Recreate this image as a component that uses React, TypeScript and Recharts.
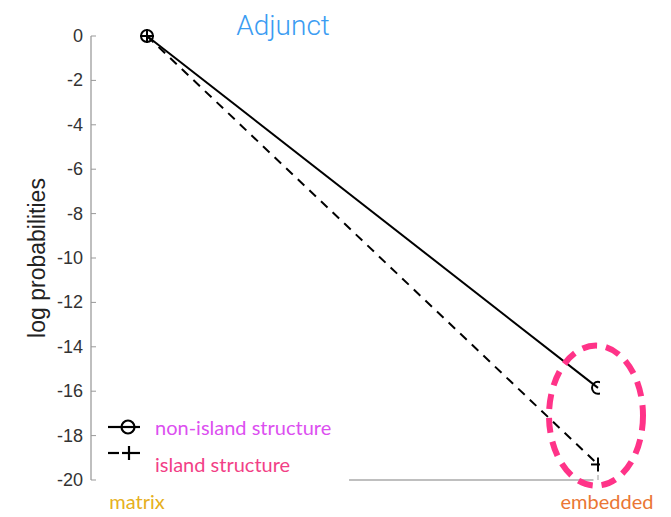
import React from 'react';
import { LineChart, Line, XAxis, YAxis, ReferenceLine, ReferenceDot } from 'recharts';

const categories = ['matrix', 'embedded'];
const nonIslandValues = [0, -15.85];
const islandValues = [0, -19.3];
const yTicks = [0, -2, -4, -6, -8, -10, -12, -14, -16, -18, -20];
const seriesNames = ['non-island structure', 'island structure'];
const highlight = { x: 1, y: -17.1 };

const data = categories.map((c, i) => ({ x: i, cat: c, nonIsland: nonIslandValues[i], island: islandValues[i] }));

const catColors = ['#e6b021', '#ea7634'];
const legendColors = ['#dc4ff0', '#f23f86'];

const CircleDot = (p: any) => (
  <circle cx={p.cx} cy={p.cy} r={6} fill="none" stroke="#000" strokeWidth={2} />
);
const PlusDot = (p: any) => (
  <g>
    <line x1={p.cx - 7} x2={p.cx + 7} y1={p.cy} y2={p.cy} stroke="#000" strokeWidth={2} />
    <line x1={p.cx} x2={p.cx} y1={p.cy - 7} y2={p.cy + 7} stroke="#000" strokeWidth={2} />
  </g>
);

const YTick = (p: any) => (
  <g>
    <line x1={p.x} x2={p.x + 5} y1={p.y} y2={p.y} stroke="#999" strokeWidth={1} />
    <text x={p.x - 8} y={p.y} dy={6} textAnchor="end" fill="#333" fontSize={18} fontFamily="'Liberation Sans', Arial, sans-serif">
      {p.payload.value}
    </text>
  </g>
);

const XTick = (p: any) => {
  const i = Math.round(p.payload.value);
  const off = i === 0 ? -10 : 9;
  return (
    <g>
      {i === 1 && <line x1={p.x} x2={p.x} y1={p.y} y2={p.y - 5} stroke="#999" strokeWidth={1} />}
      <text x={p.x + off} y={p.y + 29} textAnchor="middle" fill={catColors[i]} fontSize={20} fontFamily="Lato, 'Open Sans', sans-serif">
        {categories[i]}
      </text>
    </g>
  );
};

const LegendBox = () => (
  <div style={{ position: 'absolute', left: 107, top: 418, width: 260, height: 60, fontFamily: "Lato, 'Open Sans', sans-serif" }}>
    <svg width={40} height={50} style={{ position: 'absolute', left: 0, top: 0 }}>
      <line x1={1} x2={33} y1={9} y2={9} stroke="#000" strokeWidth={2.2} />
      <circle cx={21} cy={9} r={6.5} fill="none" stroke="#000" strokeWidth={2.2} />
      <line x1={1} x2={12} y1={35} y2={35} stroke="#000" strokeWidth={2.2} />
      <line x1={15} x2={33} y1={35} y2={35} stroke="#000" strokeWidth={2.2} />
      <line x1={22} x2={22} y1={28} y2={42} stroke="#000" strokeWidth={2.2} />
    </svg>
    <div style={{ position: 'absolute', left: 48, top: -3, fontSize: 20, color: legendColors[0], whiteSpace: 'nowrap' }}>{seriesNames[0]}</div>
    <div style={{ position: 'absolute', left: 48, top: 34, fontSize: 20, color: legendColors[1], whiteSpace: 'nowrap' }}>{seriesNames[1]}</div>
  </div>
);

const EllipseShape = (p: any) => (
  <ellipse cx={p.cx - 2} cy={p.cy} rx={47} ry={70} fill="none" stroke="#ff3388" strokeWidth={6} strokeDasharray="15 9" />
);

export default function App() {
  return (
    <div style={{ position: 'relative', margin: -8, width: 671, height: 517, background: '#fff', overflow: 'hidden' }}>
      <div style={{ position: 'absolute', left: 200, width: 166, top: 9, textAlign: 'center', fontSize: 28, color: '#3b9cf2', fontFamily: "Roboto, 'Liberation Sans', sans-serif", fontWeight: 300 }}>
        Adjunct
      </div>
      <LineChart width={671} height={517} data={data} margin={{ top: 36, right: 71, left: 0, bottom: 0 }}>
        <XAxis
          type="number"
          dataKey="x"
          domain={[-56 / 451, 453 / 451]}
          allowDataOverflow
          ticks={[0, 1]}
          height={37}
          axisLine={false}
          tickLine={false}
          tickSize={0}
          tickMargin={0}
          tick={<XTick />}
        />
        <YAxis
          domain={[-20, 0]}
          ticks={yTicks}
          width={91}
          axisLine={{ stroke: '#aaa', strokeWidth: 1.5 }}
          tickLine={false}
          tickSize={0}
          tickMargin={0}
          tick={<YTick />}
          label={{ value: 'log probabilities', angle: -90, position: 'insideLeft', offset: 37, style: { textAnchor: 'middle', fontSize: 23, fill: '#222', fontFamily: "'Liberation Sans', Arial, sans-serif" } }}
        />
        <ReferenceLine segment={[{ x: 0.448, y: -20 }, { x: 0.99, y: -20 }]} stroke="#aaa" strokeWidth={1.5} />
        <Line dataKey="island" name={seriesNames[1]} stroke="#000" strokeWidth={2} strokeDasharray="9 7" dot={<PlusDot />} isAnimationActive={false} />
        <Line dataKey="nonIsland" name={seriesNames[0]} stroke="#000" strokeWidth={2} dot={<CircleDot />} isAnimationActive={false} />
        <ReferenceDot x={highlight.x} y={highlight.y} shape={<EllipseShape />} />
      </LineChart>
      <LegendBox />
    </div>
  );
}
